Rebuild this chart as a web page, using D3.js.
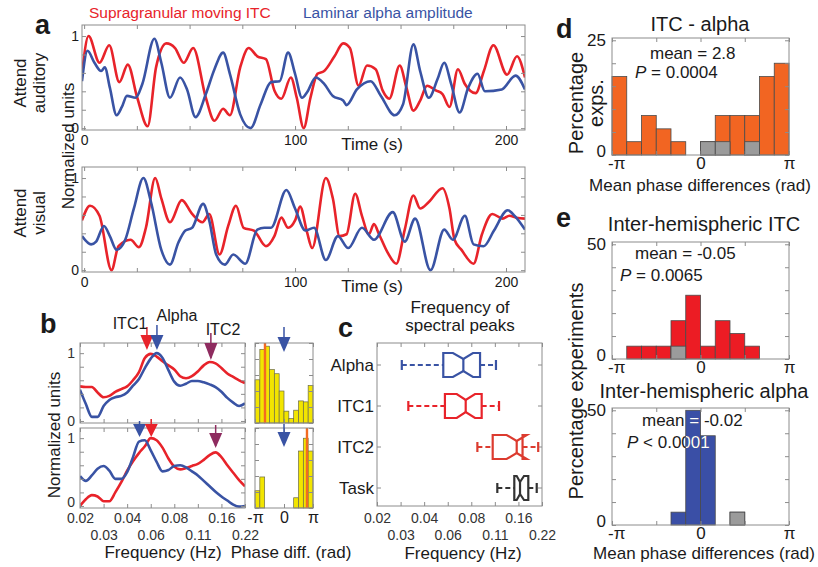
<!DOCTYPE html>
<html lang="en">
<head>
<meta charset="utf-8">
<title>ITC and alpha</title>
<script src="https://cdn.jsdelivr.net/npm/d3@7"></script>
<style>
body { margin: 0; background: #fff; }
svg { display: block; font-family: "Liberation Sans", Arial, Helvetica, sans-serif; }
</style>
</head>
<body>
<script>
// ---- panel a: [time (s), normalized value] ----
const audRed = [[-1,0.59],[2.1,1.0],[7.3,0.71],[11.9,0.90],[16.7,0.50],[20.7,0.69],[25.2,0.33],[30.1,0.02],[34.1,0.66],[39.0,0.92],[43.1,0.87],[47.2,0.71],[51.7,0.87],[57.7,0.33],[61.8,0.08],[65.9,0.21],[69.1,0.14],[74.0,0.66],[78.0,0.87],[82.1,0.78],[86.2,0.75],[90.2,0.41],[93.5,0.32],[98.0,0.55],[100.8,0.33],[104.1,0.0],[107.3,0.33],[110.6,0.59],[113.8,0.62],[118.7,0.78],[122.8,0.92],[126.0,0.87],[130.1,0.46],[134.1,0.68],[138.2,0.64],[141.5,0.41],[144.7,0.32],[149.6,0.68],[152.8,0.44],[156.1,0.19],[159.3,0.30],[162.6,0.46],[166.7,0.41],[169.9,0.37],[173.2,0.23],[177.2,0.64],[180.5,0.48],[185.6,0.38],[189.5,0.62],[194.0,0.90],[200.5,0.58],[205.2,0.78],[209,0.55]];
const audBlue = [[-1,0.51],[1.6,0.84],[4.9,0.71],[8.1,0.62],[9.8,0.66],[12.2,0.44],[15.4,0.14],[17.9,0.23],[20.3,0.35],[24.4,0.33],[27.6,0.48],[33.3,0.97],[36.6,0.71],[40.7,0.33],[45.5,0.55],[48.8,0.42],[52.8,0.12],[57.7,0.37],[61.8,0.64],[65.9,0.82],[69.1,0.59],[74.0,0.15],[78.9,0.0],[83.7,0.26],[88.6,0.50],[92.7,0.51],[96.7,0.82],[100.0,0.59],[103.3,0.33],[105.7,0.39],[109.8,0.55],[113.8,0.48],[117.9,0.35],[122.8,0.30],[124.4,0.25],[129.3,0.42],[135.8,0.51],[140.7,0.35],[147.2,0.14],[151.2,0.26],[156.1,0.91],[159.3,0.62],[163.4,0.33],[167.5,0.53],[170.7,0.71],[174.0,0.48],[178.0,0.17],[182.1,0.44],[186.5,0.59],[190.0,0.40],[198.0,0.42],[204.5,0.57],[209,0.42]];
const visRed = [[-1,0.54],[2.8,0.70],[7.3,0.59],[13.0,0.0],[16.3,0.26],[22.0,0.33],[26.0,0.25],[29.3,0.46],[33.7,1.0],[36.6,0.78],[40.7,0.52],[46.3,0.76],[51.2,0.61],[56.1,0.52],[59.3,0.61],[64.2,0.17],[68.3,0.48],[72.0,0.70],[75.6,0.46],[80.5,0.43],[86.2,0.26],[90.2,0.37],[93.5,0.57],[96.7,0.46],[100.0,0.54],[102.4,0.69],[105.7,0.41],[108.1,0.24],[114.6,1.0],[117.9,0.78],[121.1,0.37],[124.4,0.39],[128.5,0.83],[131.7,0.59],[135.0,0.39],[137.4,0.50],[139.8,0.39],[143.9,0.19],[148.0,0.07],[152.0,0.44],[156.1,0.81],[159.3,0.67],[163.4,0.74],[169.9,0.89],[173.2,0.67],[175.6,0.33],[178.9,0.22],[184.6,0.07],[188.6,0.39],[193.5,0.61],[198.4,0.56],[201.6,0.59],[204.9,0.57],[209,0.56]];
const visBlue = [[-1,0.37],[3.3,0.28],[5.7,0.31],[9.4,0.48],[12.2,0.37],[15.4,0.22],[19.5,0.33],[23.6,0.67],[28.1,1.0],[31.7,0.74],[36.6,0.22],[40.7,0.06],[44.7,0.30],[48.0,0.43],[51.2,0.46],[56.4,0.72],[59.3,0.54],[62.6,0.17],[66.7,0.06],[70.7,0.17],[76.4,0.07],[82.1,0.44],[85.4,0.46],[88.6,0.46],[95.9,0.87],[100.0,0.67],[104.9,0.43],[109.0,0.46],[114.6,0.11],[120.3,0.37],[125.2,0.24],[131.7,0.46],[137.4,0.33],[146.3,0.63],[152.0,0.31],[156.9,0.56],[164.2,0.0],[170.7,0.44],[174.8,0.33],[180.5,0.59],[184.6,0.28],[189.4,0.26],[194.3,0.43],[200.8,0.65],[204.1,0.59],[209,0.44]];
const timeTicks = [0, 25, 50, 75, 100, 125, 150, 175, 200];
const timeTickLabels = [0, 100, 200];

// ---- panel b: spectra on an eighth-octave grid ----
const freqGrid = [0.0200,0.0218,0.0238,0.0259,0.0283,0.0308,0.0336,0.0367,0.0400,0.0436,0.0476,0.0519,0.0566,0.0617,0.0673,0.0734,0.0800,0.0872,0.0951,0.1037,0.1131,0.1234,0.1345,0.1467,0.1600,0.1745,0.1903,0.2075,0.2263];
const specTopRed  = [0.51,0.50,0.50,0.42,0.35,0.37,0.43,0.47,0.51,0.60,0.72,0.93,0.99,0.95,0.88,0.82,0.76,0.66,0.63,0.66,0.73,0.82,0.87,0.85,0.78,0.70,0.65,0.60,0.56];
const specTopBlue = [0.46,0.25,0.06,0.06,0.22,0.31,0.35,0.37,0.42,0.52,0.62,0.78,0.92,1.00,0.93,0.75,0.58,0.52,0.55,0.59,0.59,0.57,0.54,0.50,0.43,0.34,0.27,0.22,0.26];
const specBotRed  = [0.00,0.10,0.16,0.14,0.07,0.07,0.20,0.35,0.52,0.66,0.78,0.88,1.00,0.97,0.86,0.70,0.58,0.54,0.56,0.59,0.62,0.68,0.75,0.79,0.72,0.60,0.49,0.38,0.29];
const specBotBlue = [0.44,0.37,0.45,0.55,0.59,0.52,0.40,0.40,0.50,0.72,0.95,0.97,0.82,0.65,0.51,0.53,0.59,0.60,0.57,0.51,0.45,0.37,0.29,0.21,0.14,0.08,0.02,-0.01,0.00];
const peakTop = { itc1: 0.0535, alpha: 0.062, itc2: 0.137 };
const peakBot = { itc1: 0.057, alpha: 0.048, itc2: 0.147 };
const freqTicks = [0.02, 0.0283, 0.04, 0.0566, 0.08, 0.1131, 0.16, 0.2263];
const freqTickLabels = ["0.02", "0.03", "0.04", "0.06", "0.08", "0.11", "0.16", "0.22"];

// phase difference histograms (12 bins, -pi..pi), percent
const phaseHistTop = [13.5, 23, 24, 16.7, 15.4, 10, 3.7, 1.4, 4, 6.9, 6.6, 11.7];
const phaseHistBot = [5.4, 9.7, 0, 0, 0, 0, 0, 0, 3.2, 17.8, 21.8, 17.8];
const phaseMean = [-2.06, 2.49];

// ---- panel c: notched box plots of peak frequency (Hz) ----
const peakCats = ["Alpha", "ITC1", "ITC2", "Task"];
const peakWhiskLo = [0.0288, 0.0317, 0.0875, 0.1173];
const peakQ1      = [0.0530, 0.0543, 0.1096, 0.1506];
const peakMedian  = [0.0712, 0.0737, 0.1560, 0.1638];
const peakQ3      = [0.0910, 0.0932, 0.1700, 0.1850];
const peakWhiskHi = [0.1150, 0.1203, 0.2140, 0.2094];
const peakNotchLo = [0.0611, 0.0646, 0.1346, 0.1560];
const peakNotchHi = [0.0820, 0.0845, 0.1807, 0.1737];

// ---- panels d, e: mean phase difference histograms (percent) ----
const dPct  = [17.1, 2.9, 8.6, 5.7, 2.9, 0, 2.9, 8.6, 8.6, 8.6, 17.1, 20.0];
const dGrey = [0, 0, 0, 0, 0, 0, 2.9, 2.9, 0, 2.9, 0, 0];
const eItcPct  = [0, 5.6, 5.6, 5.6, 16.7, 27.8, 5.6, 16.7, 11.1, 5.6, 0, 0];
const eItcGrey = [0, 0, 0, 0, 5.6, 0, 0, 0, 0, 0, 0, 0];
const eAlphaPct  = [0, 0, 0, 0, 5.6, 50, 38.9, 0, 5.6, 0, 0, 0];
const eAlphaGrey = [0, 0, 0, 0, 0, 0, 0, 0, 5.6, 0, 0, 0];
const phaseTicks = [-Math.PI, -Math.PI / 2, 0, Math.PI / 2, Math.PI];

const RED = "#e8232a", BLUE = "#3953a4", PURPLE = "#8e2b5f", FRAME = "#8c8c8c", INK = "#1a1a1a";

const svg = d3.select("body").append("svg").attr("width", 818).attr("height", 567);
let clipId = 0;

function text(x, y, s, o) {
  o = o || {};
  return svg.append("text").attr("x", x).attr("y", y)
    .attr("font-size", o.size || 14)
    .attr("font-weight", o.bold ? "bold" : null)
    .attr("text-anchor", o.anchor || "start")
    .attr("fill", o.fill || INK)
    .text(s);
}
function vtext(x, y, s, size) {
  svg.append("text").attr("transform", "translate(" + x + "," + y + ") rotate(-90)")
    .attr("text-anchor", "middle").attr("font-size", size).attr("fill", INK).text(s);
}

// MATLAB style box: inward ticks on all four sides
function boxAxes(x, y, o) {
  const [x0, x1] = x.range(), [yb, yt] = y.range();
  const none = () => "";
  const style = g => {
    g.select(".domain").remove();
    g.attr("font-size", null).attr("font-family", null);
    g.selectAll("line").attr("stroke", FRAME);
    g.selectAll("text").attr("fill", o.labelFill || "#222").attr("font-size", o.fs || 14);
  };
  const bot = svg.append("g").attr("transform", "translate(0," + yb + ")")
    .call(d3.axisBottom(x).tickValues(o.xt).tickSize(-4).tickPadding(o.xpad || 4).tickFormat(o.xf || none)).call(style);
  svg.append("g").attr("transform", "translate(0," + yt + ")")
    .call(d3.axisTop(x).tickValues(o.xt).tickSize(-4).tickFormat(none)).call(style);
  const left = svg.append("g").attr("transform", "translate(" + x0 + ",0)")
    .call(d3.axisLeft(y).tickValues(o.yt).tickSize(-4).tickPadding(o.ypad || 3).tickFormat(o.yf || none)).call(style);
  if (o.y0lift) left.selectAll(".tick text").filter(d => d === 0).attr("dy", o.y0lift);
  svg.append("g").attr("transform", "translate(" + x1 + ",0)")
    .call(d3.axisRight(y).tickValues(o.yt).tickSize(-4).tickFormat(none)).call(style);
  svg.append("rect").attr("x", x0).attr("y", yt).attr("width", x1 - x0).attr("height", yb - yt)
    .attr("fill", "none").attr("stroke", FRAME).attr("stroke-width", 1);
  return bot;
}
function clipFor(x, y) {
  const id = "clip" + (clipId++);
  const [x0, x1] = x.range(), [yb, yt] = y.range();
  svg.append("clipPath").attr("id", id).append("rect")
    .attr("x", x0).attr("y", yt).attr("width", x1 - x0).attr("height", yb - yt);
  return "url(#" + id + ")";
}

// ---------------- panel a ----------------
const tScale = d3.scaleLinear().domain([-1, 209]).range([82, 525]);
function drawTraces(top, red, blue) {
  const y = d3.scaleLinear().domain([-0.02, 1.12]).range([top + 105, top]);
  const line = d3.line().x(d => tScale(d[0])).y(d => y(d[1])).curve(d3.curveMonotoneX);
  const g = svg.append("g").attr("clip-path", clipFor(tScale, y));
  g.append("path").datum(red).attr("d", line).attr("fill", "none").attr("stroke", RED).attr("stroke-width", 2.6);
  g.append("path").datum(blue).attr("d", line).attr("fill", "none").attr("stroke", BLUE).attr("stroke-width", 2.6);
  boxAxes(tScale, y, {
    xt: timeTicks, xf: d => timeTickLabels.includes(d) ? d : "", xpad: 5,
    yt: [0, 0.2, 0.4, 0.6, 0.8, 1], yf: d => (d === 0 || d === 1) ? d : "",
    fs: 14, labelFill: INK
  });
  text(372, top + 125, "Time (s)", { size: 17, anchor: "middle" });
}
drawTraces(25, audRed, audBlue);
drawTraces(167, visRed, visBlue);

text(89, 18, "Supragranular moving ITC", { size: 15.5, fill: RED });
text(303, 18, "Laminar alpha amplitude", { size: 15.5, fill: BLUE });
text(35, 34, "a", { size: 27, bold: true });
svg.append("text").attr("transform", "translate(26,83) rotate(-90)").attr("text-anchor", "middle")
  .attr("font-size", 17).attr("fill", INK).text("Attend");
svg.append("text").attr("transform", "translate(45,83) rotate(-90)").attr("text-anchor", "middle")
  .attr("font-size", 17).attr("fill", INK).text("auditory");
svg.append("text").attr("transform", "translate(26,213) rotate(-90)").attr("text-anchor", "middle")
  .attr("font-size", 17).attr("fill", INK).text("Attend");
svg.append("text").attr("transform", "translate(45,213) rotate(-90)").attr("text-anchor", "middle")
  .attr("font-size", 17).attr("fill", INK).text("visual");
vtext(74, 146, "Normalized units", 17);

// ---------------- panel b ----------------
const fScale = d3.scaleLog().base(2).domain([0.02, 0.2263]).range([80, 245]);
function arrow(x, y0, tip, h, color) {
  svg.append("line").attr("x1", x).attr("x2", x).attr("y1", y0).attr("y2", tip - 2)
    .attr("stroke", color).attr("stroke-width", 1.5);
  svg.append("path").attr("d", "M" + (x - 6.5) + "," + (tip - h) + "L" + (x + 6.5) + "," + (tip - h) + "L" + x + "," + tip + "Z")
    .attr("fill", color);
}
function drawSpectra(top, red, blue, showX) {
  const y = d3.scaleLinear().domain([-0.03, 1.15]).range([top + 80, top]);
  const line = d3.line().x((d, i) => fScale(freqGrid[i])).y(d => y(d)).curve(d3.curveMonotoneX);
  const g = svg.append("g").attr("clip-path", clipFor(fScale, y));
  g.append("path").datum(red).attr("d", line).attr("fill", "none").attr("stroke", RED).attr("stroke-width", 2.6);
  g.append("path").datum(blue).attr("d", line).attr("fill", "none").attr("stroke", BLUE).attr("stroke-width", 2.6);
  const bot = boxAxes(fScale, y, {
    xt: freqTicks, xf: showX ? ((d, i) => freqTickLabels[i]) : null, xpad: 5,
    yt: [0, 0.2, 0.4, 0.6, 0.8, 1], yf: d => (d === 0 || d === 1) ? d : "", ypad: 5,
    y0lift: showX ? "0.05em" : null,
    fs: 14, labelFill: "#333"
  });
  if (showX) bot.selectAll(".tick text").filter((d, i) => i % 2 === 1).attr("dy", "1.93em");
}
drawSpectra(343, specTopRed, specTopBlue, false);
drawSpectra(428, specBotRed, specBotBlue, true);
arrow(fScale(peakTop.itc1), 327, 350, 15, RED);
arrow(fScale(peakTop.alpha), 325, 350, 15, BLUE);
arrow(fScale(peakTop.itc2), 333, 360, 17, PURPLE);
arrow(fScale(peakBot.alpha), 421, 437, 13, BLUE);
arrow(fScale(peakBot.itc1), 419, 437, 13, RED);
arrow(fScale(peakBot.itc2), 425, 448, 15, PURPLE);
text(130, 329, "ITC1", { size: 16, anchor: "middle" });
text(177, 321, "Alpha", { size: 16, anchor: "middle" });
text(223, 335, "ITC2", { size: 16, anchor: "middle" });
text(40, 333, "b", { size: 27, bold: true });
vtext(60, 435, "Normalized units", 17);
text(163, 558, "Frequency (Hz)", { size: 17, anchor: "middle" });

// phase-difference histograms
const phX = d3.scaleLinear().domain([-Math.PI, Math.PI]).range([255, 313]);
const binW = 2 * Math.PI / 12;
function drawPhaseHist(top, vals, mean, showX) {
  const y = d3.scaleLinear().domain([0, 25]).range([top + 80, top]);
  svg.append("g").selectAll("rect").data(vals).join("rect")
    .attr("x", (d, i) => phX(-Math.PI + i * binW))
    .attr("width", phX(binW) - phX(0))
    .attr("y", d => y(d)).attr("height", d => y(0) - y(d))
    .attr("fill", "#f2e500").attr("stroke", "#6b6b4a").attr("stroke-width", 0.7);
  svg.append("line").attr("x1", phX(mean)).attr("x2", phX(mean)).attr("y1", top).attr("y2", top + 80)
    .attr("stroke", "#f26b21").attr("stroke-width", 2.4);
  boxAxes(phX, y, {
    xt: [-Math.PI, 0, Math.PI], xf: showX ? (d => d < 0 ? "-π" : d > 0 ? "π" : "0") : null, xpad: 4,
    yt: [0, 5, 10, 15, 20, 25], fs: 16, labelFill: INK
  });
}
drawPhaseHist(343, phaseHistTop, phaseMean[0], false);
drawPhaseHist(428, phaseHistBot, phaseMean[1], true);
arrow(phX(0), 327, 352, 15, BLUE);
arrow(phX(0), 424, 447, 15, BLUE);
text(291, 558, "Phase diff. (rad)", { size: 17, anchor: "middle" });

// ---------------- panel c ----------------
const cX = d3.scaleLog().base(2).domain([0.02, 0.2263]).range([377, 542]);
const cY = d3.scaleLinear().domain([0, 1]).range([506, 343]);
const cCat = d3.scalePoint().domain(peakCats).range([365, 488]);
const cColors = [BLUE, RED, "#dc3b2f", "#333333"];
const cBot = boxAxes(cX, cY, {
  xt: freqTicks, xf: (d, i) => freqTickLabels[i], xpad: 7,
  yt: [], fs: 14, labelFill: "#333"
});
cBot.selectAll(".tick text").filter((d, i) => i % 2 === 1).attr("dy", "1.93em");
peakCats.forEach((c, i) => {
  const y0 = cCat(c);
  svg.append("line").attr("x1", 377).attr("x2", 381).attr("y1", y0).attr("y2", y0).attr("stroke", FRAME);
  svg.append("line").attr("x1", 538).attr("x2", 542).attr("y1", y0).attr("y2", y0).attr("stroke", FRAME);
  text(374, y0 + 6, c, { size: 17, anchor: "end" });
});
peakCats.forEach((c, i) => {
  const y0 = cCat(c), h = 12, ind = 6, col = cColors[i];
  const g = svg.append("g").attr("stroke", col).attr("fill", "none").attr("stroke-width", 2.2);
  const pts = [
    [peakQ1[i], y0 - h], [peakNotchLo[i], y0 - h], [peakMedian[i], y0 - h + ind], [peakNotchHi[i], y0 - h], [peakQ3[i], y0 - h],
    [peakQ3[i], y0 + h], [peakNotchHi[i], y0 + h], [peakMedian[i], y0 + h - ind], [peakNotchLo[i], y0 + h], [peakQ1[i], y0 + h]
  ];
  g.append("path").attr("d", d3.line().x(d => cX(d[0])).y(d => d[1])(pts) + "Z");
  g.append("line").attr("x1", cX(peakMedian[i])).attr("x2", cX(peakMedian[i]))
    .attr("y1", y0 - h + ind).attr("y2", y0 + h - ind);
  g.append("line").attr("x1", cX(peakWhiskLo[i])).attr("x2", cX(peakQ1[i])).attr("y1", y0).attr("y2", y0)
    .attr("stroke-dasharray", "5,3");
  g.append("line").attr("x1", cX(peakQ3[i])).attr("x2", cX(peakWhiskHi[i])).attr("y1", y0).attr("y2", y0)
    .attr("stroke-dasharray", "5,3");
  [peakWhiskLo[i], peakWhiskHi[i]].forEach(v => {
    g.append("line").attr("x1", cX(v)).attr("x2", cX(v)).attr("y1", y0 - 5).attr("y2", y0 + 5);
  });
});
text(460, 313, "Frequency of", { size: 17, anchor: "middle" });
text(460, 331, "spectral peaks", { size: 17, anchor: "middle" });
text(338, 337, "c", { size: 27, bold: true });
text(463, 559, "Frequency (Hz)", { size: 17, anchor: "middle" });

// ---------------- panels d, e ----------------
const mX = d3.scaleLinear().domain([-Math.PI, Math.PI]).range([612, 789]);
function drawMeanHist(top, ymax, yLabelTop, vals, grey, color, yt) {
  const y = d3.scaleLinear().domain([0, ymax]).range([top + 117, top]);
  const w = mX(binW) - mX(0);
  const bars = svg.append("g");
  bars.selectAll("rect.c").data(vals).join("rect").attr("class", "c")
    .attr("x", (d, i) => mX(-Math.PI + i * binW)).attr("width", w)
    .attr("y", d => y(d)).attr("height", d => y(0) - y(d))
    .attr("fill", color).attr("stroke", "#4a4a4a").attr("stroke-width", d => d > 0 ? 0.8 : 0);
  bars.selectAll("rect.g").data(grey).join("rect").attr("class", "g")
    .attr("x", (d, i) => mX(-Math.PI + i * binW)).attr("width", w)
    .attr("y", d => y(d)).attr("height", d => y(0) - y(d))
    .attr("fill", "#9b9b9b").attr("stroke", "#4a4a4a").attr("stroke-width", d => d > 0 ? 0.8 : 0);
  const bot = boxAxes(mX, y, {
    xt: phaseTicks, xf: d => d === -Math.PI ? "-π" : d === Math.PI ? "π" : d === 0 ? "0" : "", xpad: 2,
    yt: yt, yf: d => (d === 0 || d === yLabelTop) ? d : "", ypad: 6, y0lift: "0.1em",
    fs: 17, labelFill: INK
  });
  // nudge "-π" right so it clears the y-axis "0"
  bot.selectAll(".tick text").filter(d => d === -Math.PI).attr("dx", "0.25em");
  return y;
}
function statText(x1, y1, s1, x2, y2, rel, val, fill, parent) {
  const p = parent || svg;
  p.append("text").attr("x", x1).attr("y", y1).attr("font-size", 17).attr("fill", fill || INK).text(s1);
  const t = p.append("text").attr("x", x2).attr("y", y2).attr("font-size", 17).attr("fill", fill || INK);
  t.append("tspan").attr("font-style", "italic").text("P");
  t.append("tspan").text(" " + rel + " " + val);
}

drawMeanHist(38, 25.5, 25, dPct, dGrey, "#f26522", [0, 5, 10, 15, 20, 25]);
text(700, 31, "ITC - alpha", { size: 20, anchor: "middle" });
statText(650, 59, "mean = 2.8", 635, 78, "=", "0.0004");
text(556, 38, "d", { size: 27, bold: true });
vtext(583, 103, "Percentage", 20);
vtext(603, 103, "exps.", 20);
text(700, 191, "Mean phase differences (rad)", { size: 17, anchor: "middle" });

drawMeanHist(242, 51, 50, eItcPct, eItcGrey, "#ec1c24", [0, 10, 20, 30, 40, 50]);
text(704, 231, "Inter-hemispheric ITC", { size: 20, anchor: "middle" });
statText(635, 259, "mean = -0.05", 620, 281, "=", "0.0065");
text(556, 227, "e", { size: 27, bold: true });

const eAy = drawMeanHist(408, 51, 50, eAlphaPct, eAlphaGrey, "#3a4fa6", [0, 10, 20, 30, 40, 50]);
text(704, 398, "Inter-hemispheric alpha", { size: 20, anchor: "middle" });
statText(642, 426, "mean = -0.02", 627, 448, "<", "0.0001");
// the same stats again in white, clipped to the blue bars they cross
const eClip = svg.append("clipPath").attr("id", "eclip");
eAlphaPct.forEach((d, i) => {
  if (d > 0 && !eAlphaGrey[i]) {
    eClip.append("rect")
      .attr("x", mX(-Math.PI + i * binW)).attr("width", mX(binW) - mX(0))
      .attr("y", eAy(d)).attr("height", eAy(0) - eAy(d));
  }
});
const white = svg.append("g").attr("clip-path", "url(#eclip)");
statText(642, 426, "mean = -0.02", 627, 448, "<", "0.0001", "#fff", white);

vtext(583, 391, "Percentage experiments", 20);
text(704, 559, "Mean phase differences (rad)", { size: 17, anchor: "middle" });
</script>
</body>
</html>
